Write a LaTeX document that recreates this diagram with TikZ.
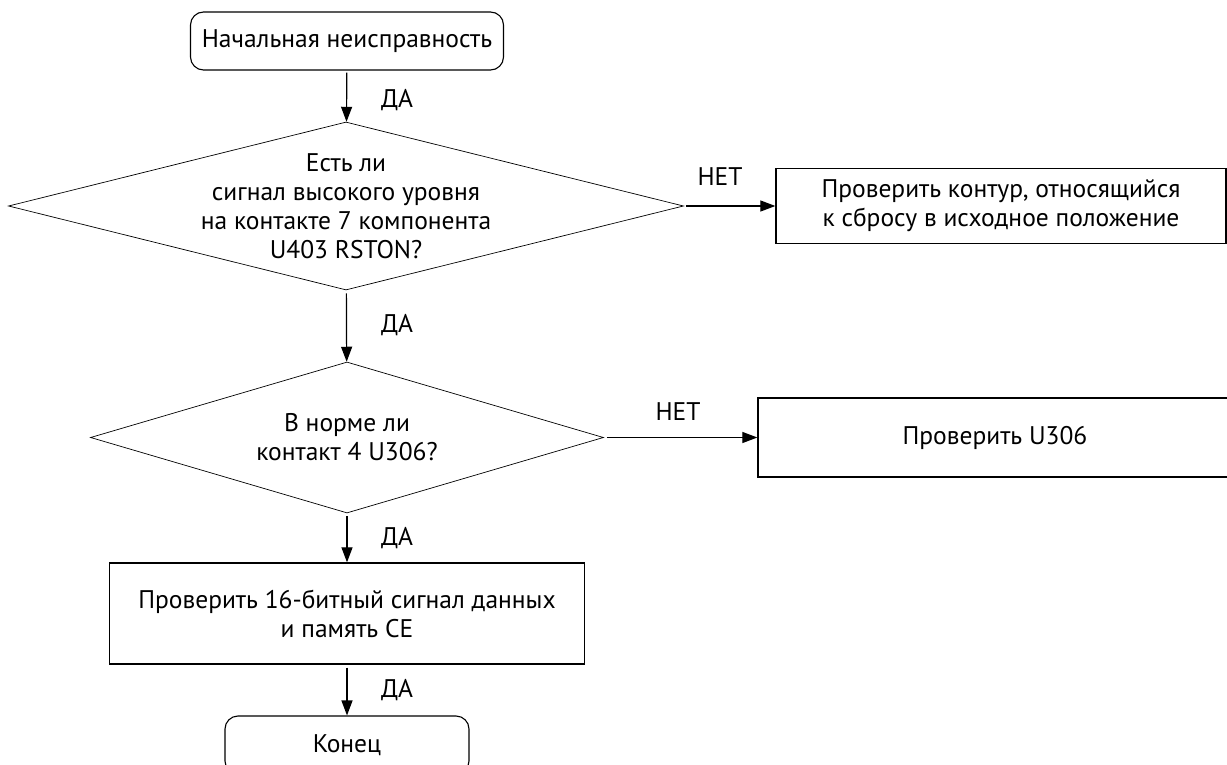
\documentclass[tikz,border=0pt]{standalone}
\usepackage{fontspec}
\setmainfont{PT Sans}
\usetikzlibrary{shapes.geometric,arrows.meta}
\begin{document}
\begin{tikzpicture}[x=1pt,y=-1pt,
  every node/.style={font=\fontsize{25.5}{29}\selectfont},
  term/.style={draw,rounded corners=13pt,line width=1.1pt,inner sep=0pt},
  proc/.style={draw,rectangle,line width=1.3pt,inner sep=0pt,align=center},
  dia/.style={draw,diamond,line width=0.7pt,inner sep=0pt},
  lbl/.style={inner sep=0pt},
  conn/.style={line width=1.2pt,-{Triangle[length=15pt,width=11pt]}},
]
\useasboundingbox (0,0) rectangle (1227,765);
\node[term,minimum width=313pt,minimum height=58pt] (start) at (347,41) {Начальная неисправность};
\node[dia,minimum width=675pt,minimum height=168pt] (d1) at (346,206) {};
\node[lbl,align=center] (d1t) at (d1.center) {Есть ли\\ сигнал высокого уровня\\на контакте 7 компонента\\U403 RSTON?};
\node[proc,minimum width=450pt,minimum height=75pt] (r1) at (1001,206) {Проверить контур, относящийся\\ к сбросу в исходное положение};
\node[dia,minimum width=513pt,minimum height=151pt] (d2) at (347,437.5) {};
\node[lbl,align=center] (d2t) at (d2.center) {В норме ли\\контакт 4 U306?};
\node[proc,minimum width=474pt,minimum height=79pt] (r2) at (995,437.5) {Проверить U306};
\node[proc,minimum width=475pt,minimum height=101pt] (r3) at (347,613.5) {Проверить 16-битный сигнал данных\\и память CE};
\node[term,minimum width=244pt,minimum height=58pt] (end) at (347,745) {Конец};

\draw[conn,shorten <=2pt] (start) -- (d1);
\draw[conn,shorten <=3pt] (d1) -- (d2);
\draw[conn,shorten <=3pt] (d2) -- (r3);
\draw[conn,shorten <=3pt] (r3) -- (end);
\draw[conn,shorten <=2pt] (d1.east) -- (r1.west);
\draw[conn,shorten <=3pt] (d2.east) -- (r2.west);

\node[lbl] (l1) at (397,100) {ДА};
\node[lbl] (l2) at (397,325) {ДА};
\node[lbl] (l3) at (397,538) {ДА};
\node[lbl] (l4) at (397,690) {ДА};
\node[lbl] (n1) at (720,177) {НЕТ};
\node[lbl] (n2) at (678,412) {НЕТ};
\end{tikzpicture}
\end{document}
